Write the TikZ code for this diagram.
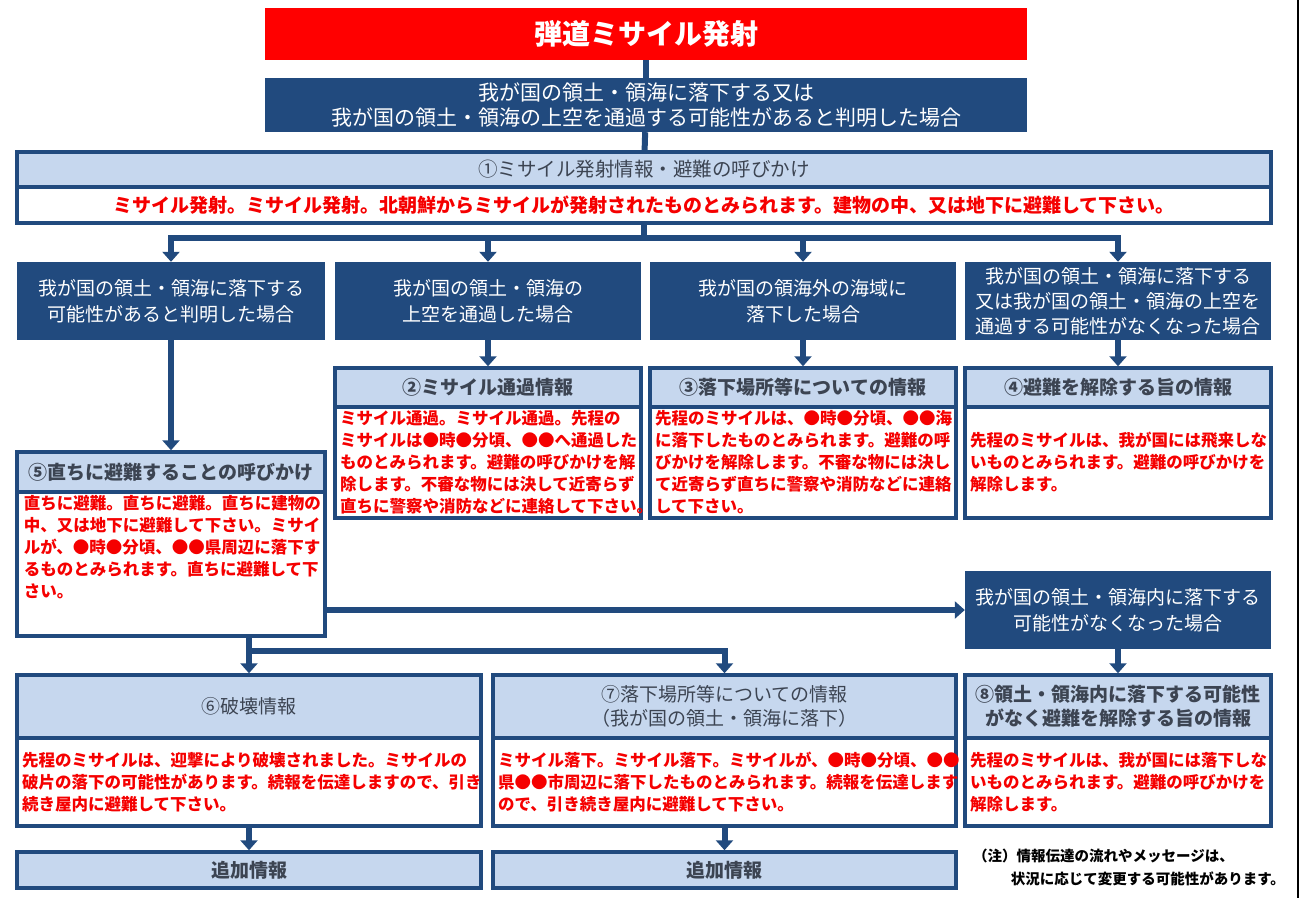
\documentclass[tikz,border=0pt]{standalone}
\usepackage{fontspec}
\setmainfont{Noto Sans CJK JP}
\usetikzlibrary{arrows.meta}
\definecolor{dblue}{RGB}{33,74,126}
\definecolor{lblue}{RGB}{198,215,238}
\definecolor{htxt}{RGB}{60,68,82}
\definecolor{rtxt}{RGB}{245,0,0}
\tikzset{
  conn/.style={draw=dblue, line width=6pt},
  arr/.style={conn, -{Triangle[width=17pt,length=10pt]}},
  titlebox/.style={fill=red, minimum width=762pt, minimum height=52pt, text=white, inner sep=0pt, font=\fontsize{28}{32}\selectfont\bfseries},
  dbox/.style={fill=dblue, text=white, align=center, inner sep=0pt, font=\fontsize{19}{26}\selectfont},
  hdr/.style={fill=lblue, draw=dblue, line width=3.5pt, text=htxt, align=center, inner sep=0pt, font=\fontsize{19}{24}\selectfont\bfseries},
  bdy/.style={fill=white, draw=dblue, line width=3.5pt, text=rtxt, align=left, inner xsep=5pt, inner ysep=0pt, font=\fontsize{16.5}{22}\selectfont\bfseries},
  note/.style={text=black, align=left, inner sep=0pt, anchor=north west, font=\fontsize{14.5}{23}\selectfont\bfseries},
}
\begin{document}
\begin{tikzpicture}[x=1pt,y=-1pt]
\useasboundingbox[fill=white] (0,0) rectangle (1303,898);
\draw[black, line width=2.5pt] (1298,0) -- (1298,898);

% top
\node[titlebox] (T) at (646,34) {弾道ミサイル発射};
\node[dbox, minimum width=762pt, minimum height=54pt, font=\fontsize{21}{25}\selectfont] (Q) at (646,105)
  {我が国の領土・領海に落下する又は\\我が国の領土・領海の上空を通過する可能性があると判明した場合};
\node[hdr, minimum width=1254pt, minimum height=35pt, font=\fontsize{19.5}{24}\selectfont] (h1) at (644,169.5)
  {①ミサイル発射情報・避難の呼びかけ};
\node[bdy, minimum width=1254pt, minimum height=36pt, align=center, font=\fontsize{19}{24}\selectfont\bfseries] (b1) at (644,205)
  {ミサイル発射。ミサイル発射。北朝鮮からミサイルが発射されたものとみられます。建物の中、又は地下に避難して下さい。};

% row of cases
\node[dbox, minimum width=308pt, minimum height=78pt] (A) at (171,301) {我が国の領土・領海に落下する\\可能性があると判明した場合};
\node[dbox, minimum width=306pt, minimum height=78pt] (B) at (488,301) {我が国の領土・領海の\\上空を通過した場合};
\node[dbox, minimum width=306pt, minimum height=78pt] (C) at (803,301) {我が国の領海外の海域に\\落下した場合};
\node[dbox, minimum width=306pt, minimum height=78pt, font=\fontsize{19}{25}\selectfont] (D) at (1118,301) {我が国の領土・領海に落下する\\又は我が国の領土・領海の上空を\\通過する可能性がなくなった場合};

% 2 3 4
\node[hdr, minimum width=306pt, minimum height=39pt] (h2) at (488,387.5) {②ミサイル通過情報};
\node[bdy, minimum width=306pt, minimum height=111pt, text width=296pt] (b2) at (488,462.5)
  {ミサイル通過。ミサイル通過。先程の\\ミサイルは●時●分頃、●●へ通過した\\ものとみられます。避難の呼びかけを解\\除します。不審な物には決して近寄らず\\直ちに警察や消防などに連絡して下さい。};
\node[hdr, minimum width=306pt, minimum height=39pt] (h3) at (803,387.5) {③落下場所等についての情報};
\node[bdy, minimum width=306pt, minimum height=111pt, text width=296pt] (b3) at (803,462.5)
  {先程のミサイルは、●時●分頃、●●海\\に落下したものとみられます。避難の呼\\びかけを解除します。不審な物には決し\\て近寄らず直ちに警察や消防などに連絡\\して下さい。};
\node[hdr, minimum width=306pt, minimum height=39pt] (h4) at (1118,387.5) {④避難を解除する旨の情報};
\node[bdy, minimum width=306pt, minimum height=111pt, text width=296pt] (b4) at (1118,462.5)
  {先程のミサイルは、我が国には飛来しな\\いものとみられます。避難の呼びかけを\\解除します。};

% 5
\node[hdr, minimum width=308pt, minimum height=40pt] (h5) at (171,472) {⑤直ちに避難することの呼びかけ};
\node[bdy, minimum width=308pt, minimum height=144pt] (b5) at (171,564) {};
\node[bdy, draw=none, fill=none, inner sep=0pt, anchor=north west] (t5) at (22,494)
  {直ちに避難。直ちに避難。直ちに建物の\\中、又は地下に避難して下さい。ミサイ\\ルが、●時●分頃、●●県周辺に落下す\\るものとみられます。直ちに避難して下\\さい。};

% E
\node[dbox, minimum width=306pt, minimum height=78pt] (E) at (1118,610) {我が国の領土・領海内に落下する\\可能性がなくなった場合};

% 6 7 8
\node[hdr, minimum width=464pt, minimum height=63pt, font=\fontsize{19}{24}\selectfont] (h6) at (249,706.5) {⑥破壊情報};
\node[bdy, minimum width=464pt, minimum height=88pt, text width=454pt] (b6) at (249,782)
  {先程のミサイルは、迎撃により破壊されました。ミサイルの\\破片の落下の可能性があります。続報を伝達しますので、引き\\続き屋内に避難して下さい。};
\node[hdr, minimum width=463pt, minimum height=63pt, font=\fontsize{19}{24}\selectfont] (h7) at (724.5,706.5) {⑦落下場所等についての情報\\（我が国の領土・領海に落下）};
\node[bdy, minimum width=463pt, minimum height=88pt, text width=453pt] (b7) at (724.5,782)
  {ミサイル落下。ミサイル落下。ミサイルが、●時●分頃、●●\\県●●市周辺に落下したものとみられます。続報を伝達します\\ので、引き続き屋内に避難して下さい。};
\node[hdr, minimum width=306pt, minimum height=63pt] (h8) at (1118,706.5) {⑧領土・領海内に落下する可能性\\がなく避難を解除する旨の情報};
\node[bdy, minimum width=306pt, minimum height=88pt, text width=296pt] (b8) at (1118,782)
  {先程のミサイルは、我が国には落下しな\\いものとみられます。避難の呼びかけを\\解除します。};

% additional info
\node[hdr, minimum width=464pt, minimum height=36pt] (g6) at (249,870) {追加情報};
\node[hdr, minimum width=463pt, minimum height=36pt] (g7) at (724.5,870) {追加情報};

% note
\node[note] (N) at (973,849) {（注）情報伝達の流れやメッセージは、\\\hspace*{2.6em}状況に応じて変更する可能性があります。};

% connectors
\draw[conn] (T) -- (Q);
\draw[conn] (Q) -- (h1);
\coordinate (j1) at (644,238);
\draw[conn] (b1.south) -- (j1);
\draw[conn, line cap=rect] (A.north |- j1) -- (D.north |- j1);
\draw[arr] (A.north |- j1) -- (A.north);
\draw[arr] (B.north |- j1) -- (B.north);
\draw[arr] (C.north |- j1) -- (C.north);
\draw[arr] (D.north |- j1) -- (D.north);
\draw[arr] (B.south) -- (h2.north);
\draw[arr] (C.south) -- (h3.north);
\draw[arr] (D.south) -- (h4.north);
\draw[arr] (A.south) -- (h5.north);
\draw[arr] (b5.east |- E.west) -- (E.west);
\coordinate (j2) at (249,651);
\draw[conn, line cap=rect] (b5.south -| h6.north) -- (j2) -- (j2 -| h7.north);
\draw[arr] (j2) -- (h6.north);
\draw[arr] (j2 -| h7.north) -- (h7.north);
\draw[arr] (E.south) -- (h8.north);
\draw[arr] (b6.south) -- (g6.north);
\draw[arr] (b7.south) -- (g7.north);
\end{tikzpicture}
\end{document}
